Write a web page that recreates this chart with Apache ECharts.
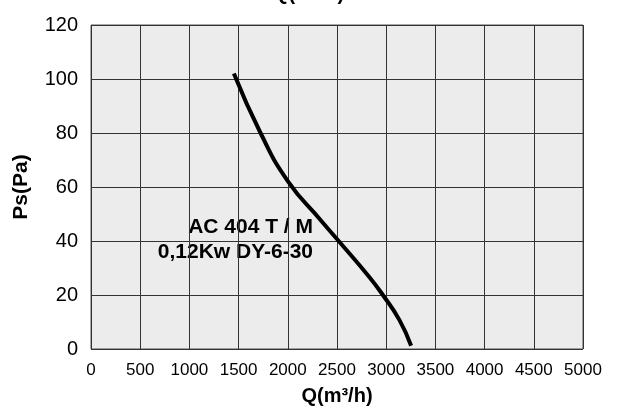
<!DOCTYPE html>
<html>
<head>
<meta charset="utf-8">
<script src="https://cdn.jsdelivr.net/npm/echarts@6/dist/echarts.min.js"></script>
<style>
  html, body { margin: 0; padding: 0; background: #fff; }
  #chart { width: 617px; height: 412px; }
</style>
</head>
<body>
<div id="chart"></div>
<script>
  // fan curve: [Q (m3/h), Ps (Pa)]
  const curveQ = [1452, 1723, 2000, 2339, 2517, 2830, 2966, 3135, 3253];
  const curvePs = [102, 80, 62.2, 47.5, 40, 26.6, 20, 10.7, 1.2];
  const xTicks = [0, 500, 1000, 1500, 2000, 2500, 3000, 3500, 4000, 4500, 5000];
  const yTicks = [0, 20, 40, 60, 80, 100, 120];
  const modelLines = ['AC 404 T / M', '0,12Kw DY-6-30'];

  const font = 'Liberation Sans, Arial, Helvetica, sans-serif';
  const myChart = echarts.init(document.getElementById('chart'));

  myChart.setOption({
    animation: false,
    grid: {
      left: 91,
      right: 34,
      top: 25,
      bottom: 63,
      outerBoundsMode: 'none',
      show: true,
      backgroundColor: '#ececec',
      borderColor: '#555',
      borderWidth: 1
    },
    xAxis: {
      type: 'value',
      min: xTicks[0],
      max: xTicks[xTicks.length - 1],
      interval: 500,
      name: 'Q(m³/h)',
      nameLocation: 'middle',
      nameGap: 37,
      nameTextStyle: { fontFamily: font, fontSize: 20, fontWeight: 'bold', color: '#000' },
      axisLine: { show: false },
      axisTick: { show: false },
      axisLabel: { fontFamily: font, fontSize: 17, color: '#000', margin: 13, formatter: v => String(v) },
      splitLine: { lineStyle: { color: '#333', width: 1 } }
    },
    yAxis: {
      type: 'value',
      min: yTicks[0],
      max: yTicks[yTicks.length - 1],
      interval: 20,
      name: 'Ps(Pa)',
      nameLocation: 'middle',
      nameGap: 59,
      nameRotate: 90,
      nameTextStyle: { fontFamily: font, fontSize: 21, fontWeight: 'bold', color: '#000' },
      axisLine: { show: false },
      axisTick: { show: false },
      axisLabel: { fontFamily: font, fontSize: 20, color: '#000', margin: 13, padding: [0, 0, 12, 0] },
      splitLine: { lineStyle: { color: '#333', width: 1 } }
    },
    graphic: [
      {
        type: 'text',
        left: 'center',
        top: -16,
        style: { text: 'Q(m³/h)', font: 'bold 20px ' + font, fill: '#000' }
      },
      {
        type: 'text',
        x: 313,
        y: 215,
        style: {
          text: modelLines.join('\n'),
          font: 'bold 21px ' + font,
          fill: '#000',
          align: 'right',
          lineHeight: 25
        }
      }
    ],
    series: [
      {
        type: 'line',
        smooth: 0.5,
        symbol: 'none',
        lineStyle: { color: '#000', width: 4 },
        data: curveQ.map((q, i) => [q, curvePs[i]])
      }
    ]
  });
</script>
</body>
</html>
